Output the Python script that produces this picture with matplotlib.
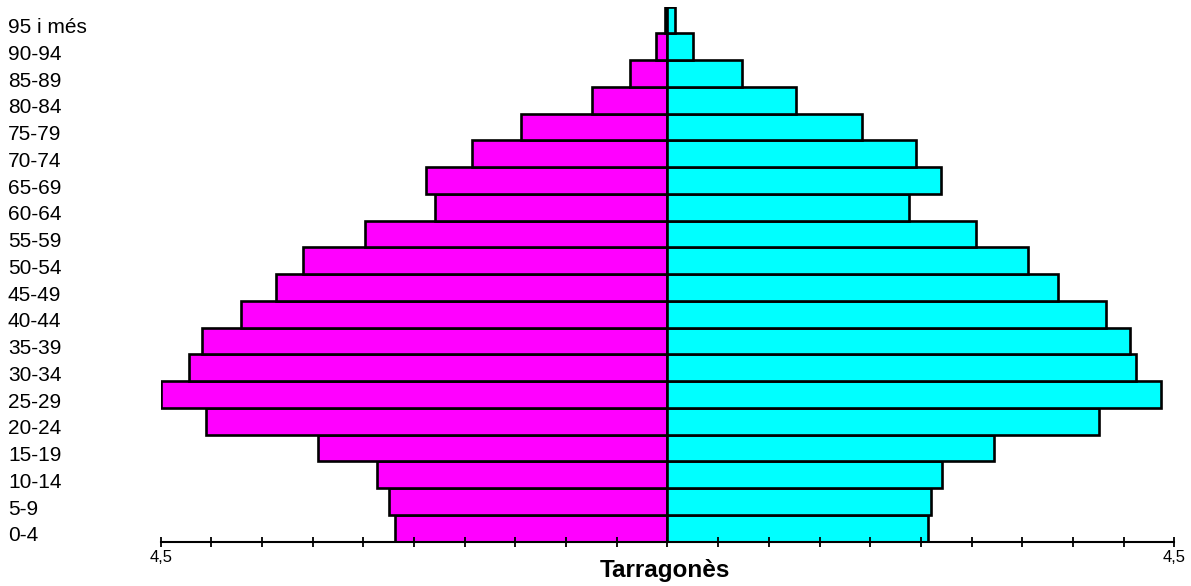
import numpy as np
import matplotlib
matplotlib.use("Agg")
import matplotlib.pyplot as plt
from matplotlib import transforms

plt.rcParams['font.family'] = ['Liberation Sans', 'DejaVu Sans']

# age groups, bottom to top
groups = ['0-4', '5-9', '10-14', '15-19', '20-24', '25-29', '30-34', '35-39',
          '40-44', '45-49', '50-54', '55-59', '60-64', '65-69', '70-74',
          '75-79', '80-84', '85-89', '90-94', '95 i més']
# percentages (left = magenta, right = cyan)
left_vals = [2.42, 2.47, 2.58, 3.10, 4.10, 4.50, 4.25, 4.13, 3.79, 3.48,
             3.24, 2.69, 2.06, 2.14, 1.74, 1.30, 0.67, 0.33, 0.105, 0.02]
right_vals = [2.31, 2.34, 2.44, 2.90, 3.83, 4.38, 4.16, 4.11, 3.89, 3.47,
              3.20, 2.74, 2.14, 2.43, 2.21, 1.73, 1.14, 0.66, 0.23, 0.07]
title = 'Tarragonès'
xmax = 4.5

fig = plt.figure(figsize=(11.91, 5.86), dpi=100)
ax = fig.add_axes([0.1349, 0.0756, 0.986 - 0.1349, 0.9886 - 0.0756])

y = np.arange(len(groups))
left = np.array(left_vals)
right = np.array(right_vals)

ax.barh(y, -left, height=1.0, color='#ff00ff', edgecolor='black', linewidth=1.9)
ax.barh(y, right, height=1.0, color='#00ffff', edgecolor='black', linewidth=1.9)

ax.set_xlim(-xmax, xmax)
ax.set_ylim(-0.5, len(groups) - 0.5)

for s in ['top', 'left', 'right']:
    ax.spines[s].set_visible(False)
ax.spines['bottom'].set_linewidth(1.5)

ticks = np.linspace(-xmax, xmax, 21)
ax.set_xticks(ticks)
ax.set_xticklabels(['4,5' if abs(abs(t) - xmax) < 1e-9 else '' for t in ticks])
ax.tick_params(axis='x', direction='inout', length=7.5, width=1.3, pad=2,
               labelsize=12)
ax.set_yticks([])

# age labels at the left edge of the figure
trans = transforms.blended_transform_factory(fig.transFigure, ax.transData)
for i, g in enumerate(groups):
    ax.text(8 / 1191, i - 0.28, g, transform=trans, ha='left', va='center',
            fontsize=15, clip_on=False)

fig.text(665 / 1191, 9 / 586, title, ha='center', va='baseline',
         fontsize=17.5, fontweight='bold')

fig.savefig('out.png', dpi=100)
